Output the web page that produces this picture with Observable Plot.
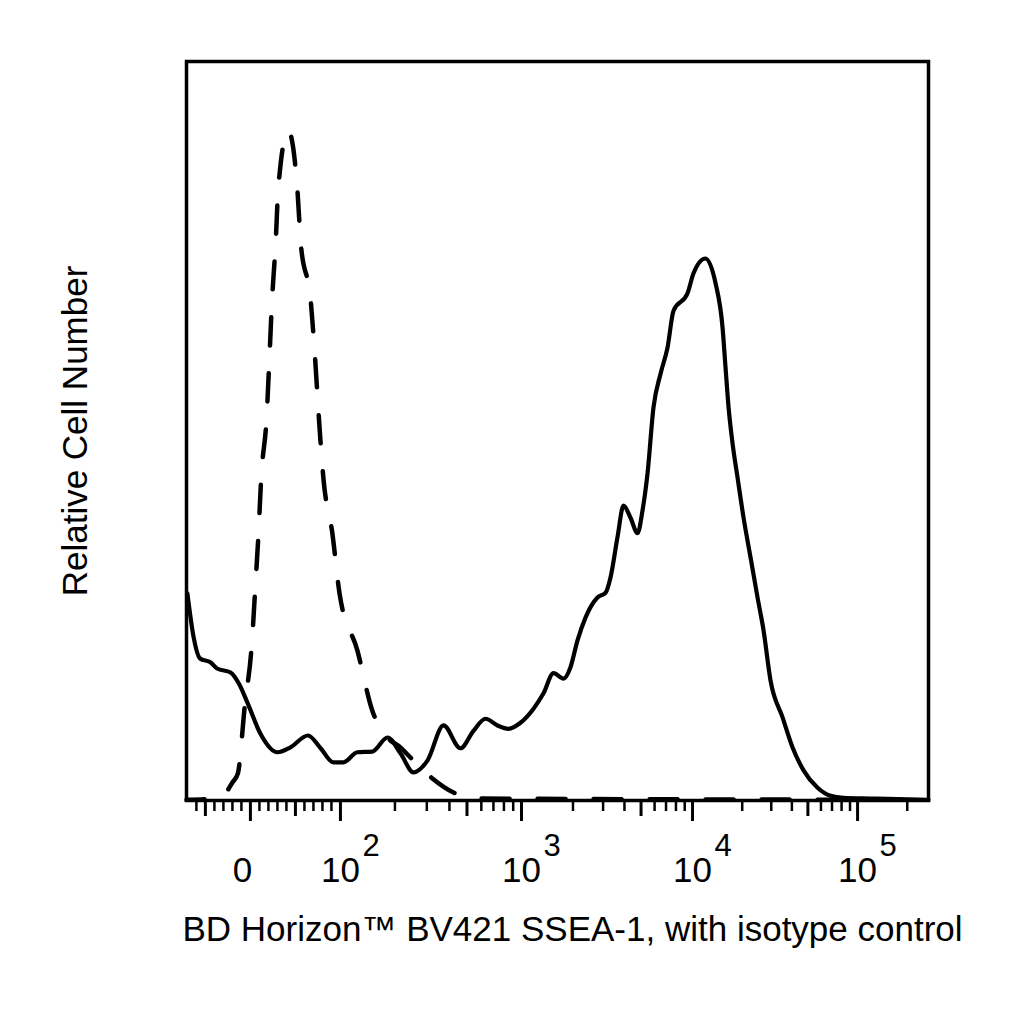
<!DOCTYPE html>
<html><head><meta charset="utf-8">
<script src="https://cdn.jsdelivr.net/npm/d3@7"></script>
<script src="https://cdn.jsdelivr.net/npm/@observablehq/plot@0.6"></script>
<style>body{margin:0;background:#fff}</style>
</head><body><div id="chart"></div>
<script>
// SSEA-1 stained cells (solid) – fluorescence intensity vs relative cell number (% of isotype peak)
const ssea1X = [-70,-63,-56,-44,-37,-22,-13,-3,11,30,44,64,78,92,104,124,150,182,215,253,303,371,460,543,633,737,848,987,1176,1345,1539,1761,1934,2126,2367,2782,3099,3315,3642,3949,4339,4769,5101,5456,5914,6502,7141,7743,9350,10140,11990,13790,15200,15850,16530,17480,18740,20380,22460,24770,26930,29700,35120,40380,47070,57240,68630,82260,119900,269000];
const ssea1Y = [30.9,24.3,21.2,20.6,19.7,19.1,17.5,14.5,10.0,7.2,7.9,9.7,7.8,5.7,5.7,7.2,7.3,9.4,7.0,4.2,6.0,11.2,7.8,10.4,12.2,11.2,10.7,11.6,13.7,16.0,19.0,18.2,19.9,23.9,27.3,30.3,31.0,33.3,39.3,44.0,42.2,39.9,43.3,48.8,58.7,63.7,67.6,73.1,75.7,78.7,80.9,77.2,70.6,64.6,58.7,53.3,48.2,42.2,36.3,30.3,25.4,17.9,12.4,7.9,4.5,1.9,0.7,0.4,0.3,0.1];
// isotype control (dashed)
const isoX = [-71,-33,-20,-14,-6,1,6,9,12,18,21,24,28,31,42,52,56,67,72,76,81,91,99,124,150,182,215,244,322,421,557,269000];
const isoY = [0.1,0.4,2.7,4.0,14.5,22.4,33.1,39.9,48.2,57.2,65.7,74.6,83.1,91.5,100,91.5,83.1,74.6,65.7,57.2,48.2,39.9,30.9,22.4,13.4,9.4,7.9,6.4,3.3,1.2,0.3,0.1];

const majorTicks = [0, 100, 1000, 10000, 100000];
const majorBase = ["0", "10", "10", "10", "10"];
const majorExp = ["", "2", "3", "4", "5"];
const mediumTicks = [-50, 50, 500, 5000, 50000];
const minorTicks = [-60,-40,-30,-20,-10,10,20,30,40,60,70,80,90,
  200,300,400,600,700,800,900,
  2000,3000,4000,6000,7000,8000,9000,
  20000,30000,40000,60000,70000,80000,90000,200000];
const xDomain = [-71, 269000];
const yDomain = [0, 110.3];
const yLabel = "Relative Cell Number";
const xLabel = "BD Horizon™ BV421 SSEA-1, with isotype control";

// biexponential-style display transform: linear near zero, logarithmic above 100
const logPart = d3.scaleLinear().domain([2, 3, 4, 5]).range([0.90, 2.71, 4.42, 6.07]);
function disp(v) { return v < 100 ? v / 100 * 0.90 : logPart(Math.log10(v)); }

const ssea1 = ssea1X.map((x, i) => ({x, y: ssea1Y[i]}));
const iso = isoX.map((x, i) => ({x, y: isoY[i]}));

const font = "'Liberation Sans', Arial, Helvetica, sans-serif";

const chart = Plot.plot({
  width: 1024,
  height: 1024,
  marginLeft: 186,
  marginRight: 96,
  marginTop: 61,
  marginBottom: 224,
  style: {fontFamily: font, background: "#fff", color: "#000"},
  x: {domain: xDomain.map(disp)},
  y: {domain: yDomain, axis: null},
  marks: [
    Plot.line(iso, {x: d => disp(d.x), y: "y", stroke: "#000", strokeWidth: 4.5, strokeDasharray: "28,28", strokeDashoffset: 10, curve: "monotone-x"}),
    Plot.line(ssea1, {x: d => disp(d.x), y: "y", stroke: "#000", strokeWidth: 4.2, curve: "monotone-x"}),
    Plot.frame({stroke: "#000", strokeWidth: 3.5}),
    Plot.axisX(majorTicks.map(disp), {anchor: "bottom", tickSize: 21, strokeWidth: 3, tickFormat: () => "", label: null}),
    Plot.axisX(mediumTicks.map(disp), {anchor: "bottom", tickSize: 16, strokeWidth: 3, tickFormat: () => "", label: null}),
    Plot.axisX(minorTicks.map(disp), {anchor: "bottom", tickSize: 11, strokeWidth: 2.5, tickFormat: () => "", label: null}),
    Plot.text([majorTicks[0]], {x: d => disp(d), frameAnchor: "bottom", dy: 81, dx: -8, text: () => majorBase[0], fontSize: 35, fill: "#000"}),
    Plot.text(majorTicks.slice(1), {x: d => disp(d), frameAnchor: "bottom", dy: 81, text: (d, i) => majorBase[i + 1], fontSize: 35, fill: "#000"}),
    Plot.text(majorTicks.slice(1), {x: d => disp(d), frameAnchor: "bottom", dy: 55, dx: 22, textAnchor: "start", text: (d, i) => majorExp[i + 1], fontSize: 31, fill: "#000"}),
    Plot.text([yLabel], {frameAnchor: "left", dx: -111, rotate: -90, textAnchor: "middle", fontSize: 35, fill: "#000"}),
    Plot.text([xLabel], {frameAnchor: "bottom-left", dx: -4, dy: 140, textAnchor: "start", fontSize: 35, fill: "#000"})
  ]
});
document.getElementById("chart").appendChild(chart);
</script>
</body></html>
